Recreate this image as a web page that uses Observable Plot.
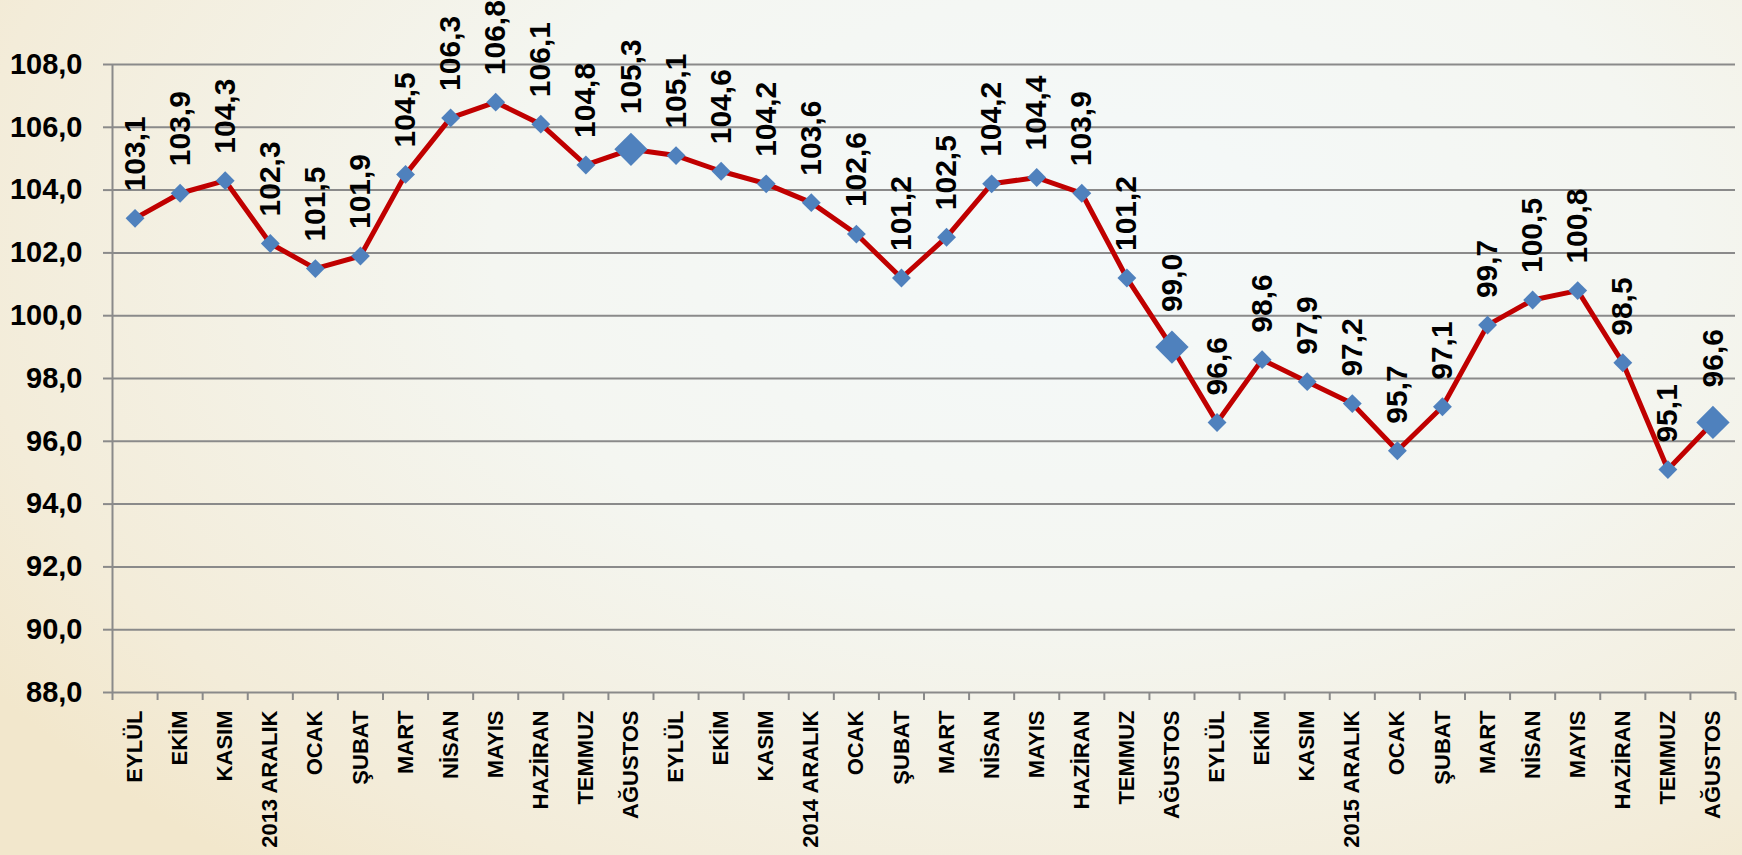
<!DOCTYPE html>
<html>
<head>
<meta charset="utf-8">
<script src="https://cdn.jsdelivr.net/npm/d3@7"></script>
<script src="https://cdn.jsdelivr.net/npm/@observablehq/plot@0.6"></script>
<style>
  html, body { margin: 0; padding: 0; }
  body {
    width: 1742px; height: 855px; overflow: hidden;
    background: radial-gradient(ellipse 75% 95% at 62% 28%, #f4f9fa 0%, #f4f6f1 45%, #f3ecd9 85%, #f2e7cc 100%);
  }
  #chart svg { display: block; }
</style>
</head>
<body>
<div id="chart"></div>
<script>
const months = [
  "EYLÜL","EKİM","KASIM","2013 ARALIK","OCAK","ŞUBAT","MART","NİSAN","MAYIS","HAZİRAN","TEMMUZ","AĞUSTOS",
  "EYLÜL","EKİM","KASIM","2014 ARALIK","OCAK","ŞUBAT","MART","NİSAN","MAYIS","HAZİRAN","TEMMUZ","AĞUSTOS",
  "EYLÜL","EKİM","KASIM","2015 ARALIK","OCAK","ŞUBAT","MART","NİSAN","MAYIS","HAZİRAN","TEMMUZ","AĞUSTOS"
];
const values = [
  103.1,103.9,104.3,102.3,101.5,101.9,104.5,106.3,106.8,106.1,104.8,105.3,
  105.1,104.6,104.2,103.6,102.6,101.2,102.5,104.2,104.4,103.9,101.2,99.0,
  96.6,98.6,97.9,97.2,95.7,97.1,99.7,100.5,100.8,98.5,95.1,96.6
];
const highlightMonth = "AĞUSTOS";
const yTicks = [88,90,92,94,96,98,100,102,104,106,108];

const fmt = v => v.toFixed(1).replace(".", ",");
const data = values.map((v, i) => ({pos: i + 0.5, month: months[i], value: v, big: months[i] === highlightMonth}));
const small = data.filter(d => !d.big);
const big = data.filter(d => d.big);
const font = "'Liberation Sans', Arial, sans-serif";

const chart = Plot.plot({
  width: 1742,
  height: 855,
  marginLeft: 112,
  marginRight: 7,
  marginTop: 64,
  marginBottom: 163,
  style: {background: "transparent", fontFamily: font, color: "#000", overflow: "visible"},
  x: {type: "linear", domain: [0, months.length], axis: null, label: null},
  y: {domain: [88, 108], axis: null, label: null},
  marks: [
    Plot.gridY(yTicks, {stroke: "#8a8a8a", strokeOpacity: 1, strokeWidth: 2}),
    Plot.ruleX([0], {stroke: "#8a8a8a", strokeWidth: 2}),
    Plot.axisY(yTicks, {
      label: null, tickSize: 9, tickPadding: 21, stroke: "#8a8a8a", strokeWidth: 2,
      tickFormat: fmt, fontSize: 29, fontWeight: "bold", fill: "#000"
    }),
    Plot.axisX(d3.range(months.length + 1), {
      label: null, tickSize: 8, stroke: "#8a8a8a", strokeWidth: 2, tickFormat: () => ""
    }),
    Plot.axisX(data.map(d => d.pos), {
      label: null, tickSize: 0, tickPadding: 18, tickRotate: -90,
      tickFormat: p => months[Math.floor(p)], fontSize: 22, fontWeight: "bold", fill: "#000"
    }),
    Plot.line(data, {x: "pos", y: "value", stroke: "#c00000", strokeWidth: 5, curve: "linear"}),
    Plot.dot(small, {x: "pos", y: "value", symbol: "diamond2", r: 8.5, fill: "#4f81bd", stroke: "none"}),
    Plot.dot(big, {x: "pos", y: "value", symbol: "diamond2", r: 15, fill: "#4f81bd", stroke: "none"}),
    Plot.text(small, {
      x: "pos", y: "value", text: d => fmt(d.value), rotate: -90, textAnchor: "start",
      lineAnchor: "middle", dy: -27, fontSize: 30, fontWeight: "bold", fill: "#000"
    }),
    Plot.text(big, {
      x: "pos", y: "value", text: d => fmt(d.value), rotate: -90, textAnchor: "start",
      lineAnchor: "middle", dy: -35, fontSize: 30, fontWeight: "bold", fill: "#000"
    })
  ]
});
document.getElementById("chart").appendChild(chart);
</script>
</body>
</html>
